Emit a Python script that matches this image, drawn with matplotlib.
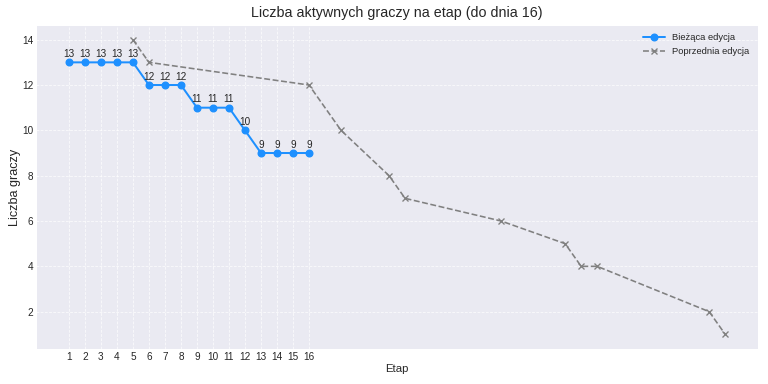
import matplotlib.pyplot as plt
import seaborn as sns

# data
etapy = list(range(1, 17))
gracze_teraz = [13, 13, 13, 13, 13, 12, 12, 12, 11, 11, 11, 10, 9, 9, 9, 9]

etapy_poprz = [5, 6, 16, 18, 21, 22, 28, 32, 33, 34, 41, 42]
gracze_poprz = [14, 13, 12, 10, 8, 7, 6, 5, 4, 4, 2, 1]

sns.set_style('darkgrid')
plt.rcParams['font.family'] = ['Liberation Sans', 'DejaVu Sans']

fig, ax = plt.subplots(figsize=(8, 4), dpi=96)

ax.plot(etapy, gracze_teraz, marker='o', color='#1E90FF', markersize=5,
        linewidth=1.5, label='Bieżąca edycja')
ax.plot(etapy_poprz, gracze_poprz, marker='x', linestyle='--', color='gray',
        markersize=5, linewidth=1.2, label='Poprzednia edycja')

# value labels above the current edition
for x, y in zip(etapy, gracze_teraz):
    ax.annotate(str(y), (x, y), textcoords='offset points', xytext=(0, 4),
                ha='center', fontsize=7.5)

ax.set_xticks(etapy)
ax.tick_params(labelsize=7.5, pad=2, length=0)
ax.grid(True, linestyle=(0, (3, 1.5)), linewidth=0.7, color='white', alpha=0.7)
ax.set_title('Liczba aktywnych graczy na etap (do dnia 16)', fontsize=10.7)
ax.set_xlabel('Etap', fontsize=8.5)
ax.set_ylabel('Liczba graczy', fontsize=9.5)
ax.yaxis.set_label_coords(-0.021, 0.5)
ax.xaxis.set_label_coords(0.5, -0.045)
ax.legend(loc='upper right', fontsize=7, frameon=False, handlelength=2.3)

plt.subplots_adjust(left=0.047, right=0.987, top=0.935, bottom=0.091)
plt.savefig('out.png')
